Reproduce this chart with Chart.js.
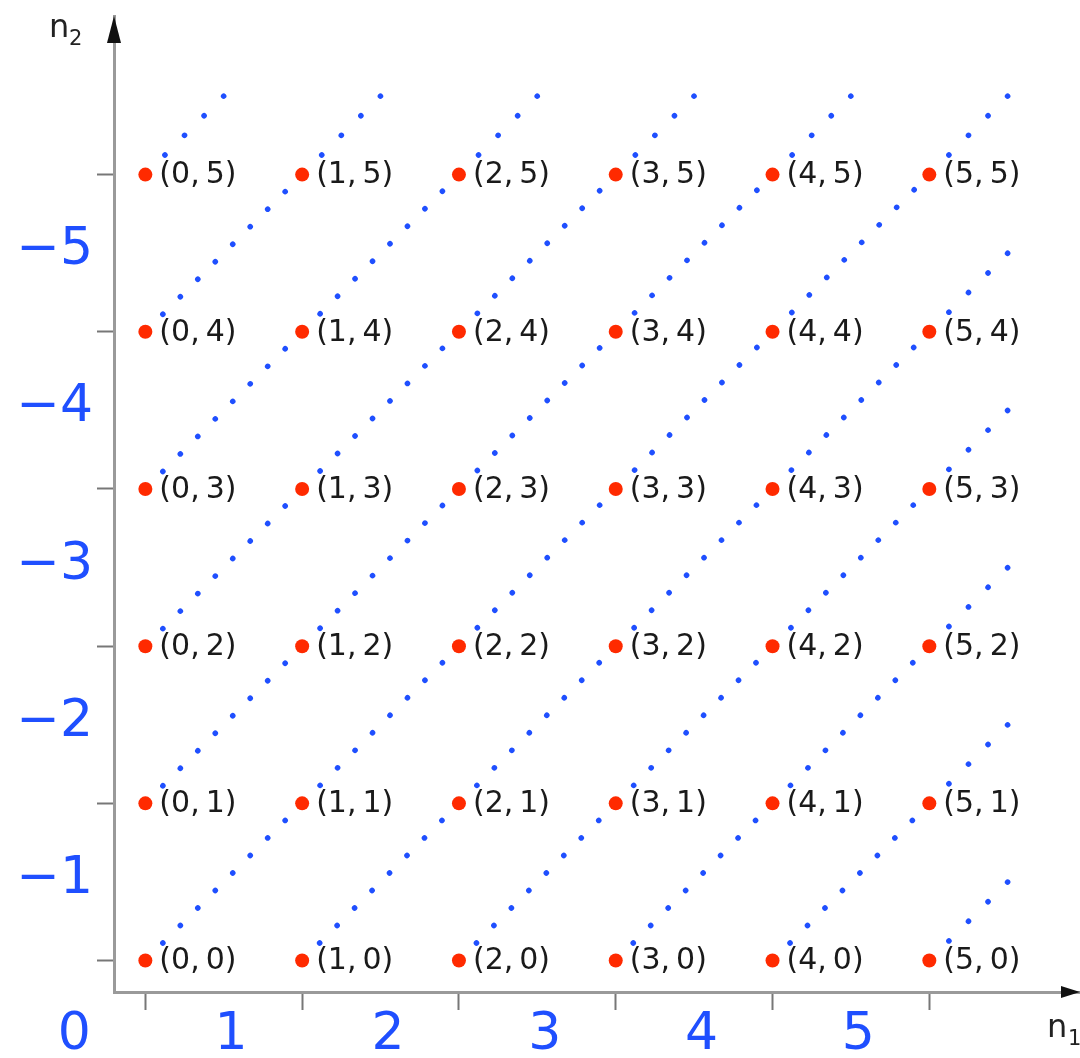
<!DOCTYPE html>
<html>
<head>
<meta charset="utf-8">
<script src="https://cdn.jsdelivr.net/npm/chart.js@4.4.1/dist/chart.umd.min.js"></script>
<style>
  html, body { margin: 0; padding: 0; background: #fff; }
  canvas { display: block; }
</style>
</head>
<body>
<canvas id="lattice" width="1080" height="1058"></canvas>
<script>
const n1Values = [0, 1, 2, 3, 4, 5];
const n2Values = [0, 1, 2, 3, 4, 5];
const diagonalOffsets = [-5, -4, -3, -2, -1, 0, 1, 2, 3, 4, 5]; // n2 - n1
const xTickLabels = ['0', '1', '2', '3', '4', '5'];
const yTickLabels = ['', '−1', '−2', '−3', '−4', '−5'];
const tailLength = 0.5;

const RED = '#ff2a00', BLUE = '#1f4fff', AXIS = '#9a9a9a', FONT = "'DejaVu Sans', sans-serif";

// lattice points (n1, n2) with their labels
const points = [];
n2Values.forEach(j => n1Values.forEach(i => points.push({ x: i, y: j, label: `(${i},\u2009${j})` })));

// diagonals n2 - n1 = k : full part through the lattice, then a short tail
const nMax = Math.max(...n1Values);
const diagFull = [], diagTail = [];
diagonalOffsets.forEach(k => {
  const start = { x: Math.max(0, -k), y: Math.max(0, k) };
  const end = { x: nMax - Math.max(0, k), y: nMax - Math.max(0, -k) };
  if (end.x > start.x) diagFull.push([start, end]);
  diagTail.push([end, { x: end.x + tailLength, y: end.y + tailLength }]);
});

const dotted = (data, gap) => ({
  data, showLine: true, pointRadius: 0, pointHoverRadius: 0,
  borderColor: BLUE, borderWidth: 5.5, borderCapStyle: 'round',
  borderDash: [0.1, gap], order: 1
});

const datasets = [
  { data: points, pointRadius: 7, pointHoverRadius: 7, backgroundColor: RED, borderWidth: 0, order: 0 },
  ...diagFull.map(d => dotted(d, 24.64)),
  ...diagTail.map(d => dotted(d, 27.6))
];

const decor = {
  id: 'decor',
  afterDatasetsDraw(chart) {
    const ctx = chart.ctx;
    const meta = chart.getDatasetMeta(0);
    ctx.save();
    ctx.font = `30px ${FONT}`;
    ctx.fillStyle = '#1a1a1a';
    ctx.textBaseline = 'middle';
    meta.data.forEach((el, i) => ctx.fillText(points[i].label, el.x + 14, el.y + 1));
    ctx.restore();
  },
  afterDraw(chart) {
    const { ctx, chartArea: { left, top, right, bottom } } = chart;
    ctx.save();
    ctx.fillStyle = '#111';
    ctx.beginPath();
    ctx.moveTo(left, top); ctx.lineTo(left - 7, top + 27); ctx.lineTo(left + 7, top + 27);
    ctx.closePath(); ctx.fill();
    ctx.beginPath();
    ctx.moveTo(right, bottom); ctx.lineTo(right - 19, bottom - 6); ctx.lineTo(right - 19, bottom + 6);
    ctx.closePath(); ctx.fill();
    ctx.fillStyle = '#222';
    ctx.textBaseline = 'alphabetic';
    ctx.font = `32px ${FONT}`;
    ctx.fillText('n', 49, 37);
    ctx.fillText('n', 1047, 1037);
    ctx.font = `21px ${FONT}`;
    ctx.fillText('2', 69, 45);
    ctx.fillText('1', 1068, 1045);
    ctx.restore();
  }
};

new Chart(document.getElementById('lattice'), {
  type: 'scatter',
  data: { datasets },
  options: {
    responsive: false,
    animation: false,
    layout: { autoPadding: false, padding: { top: 16, right: 0, left: 0, bottom: 0 } },
    plugins: { legend: { display: false }, tooltip: { enabled: false } },
    scales: {
      x: {
        type: 'linear', min: -0.2, max: 5.961,
        afterBuildTicks: s => { s.ticks = n1Values.map(v => ({ value: v })); },
        afterFit: s => { s.height = 66; s.paddingLeft = 0; s.paddingRight = 0; },
        border: { display: true, color: AXIS, width: 3 },
        grid: { drawOnChartArea: false, drawTicks: true, tickLength: 18, tickColor: '#777', tickWidth: 2 },
        ticks: {
          autoSkip: false, maxRotation: 0, color: BLUE, padding: -1, labelOffset: -71,
          font: { family: FONT, size: 52, lineHeight: 1 },
          callback: (v, i) => xTickLabels[i]
        }
      },
      y: {
        type: 'linear', min: -0.2, max: 6.009,
        afterBuildTicks: s => { s.ticks = n2Values.map(v => ({ value: v })); },
        afterFit: s => { s.width = 114; s.paddingTop = 0; s.paddingBottom = 0; },
        border: { display: true, color: AXIS, width: 3 },
        grid: { drawOnChartArea: false, drawTicks: true, tickLength: 17, tickColor: '#777', tickWidth: 2 },
        ticks: {
          autoSkip: false, color: BLUE, padding: 4, labelOffset: 76,
          font: { family: FONT, size: 52, lineHeight: 1 },
          callback: (v, i) => yTickLabels[i]
        }
      }
    }
  },
  plugins: [decor]
});
</script>
</body>
</html>
